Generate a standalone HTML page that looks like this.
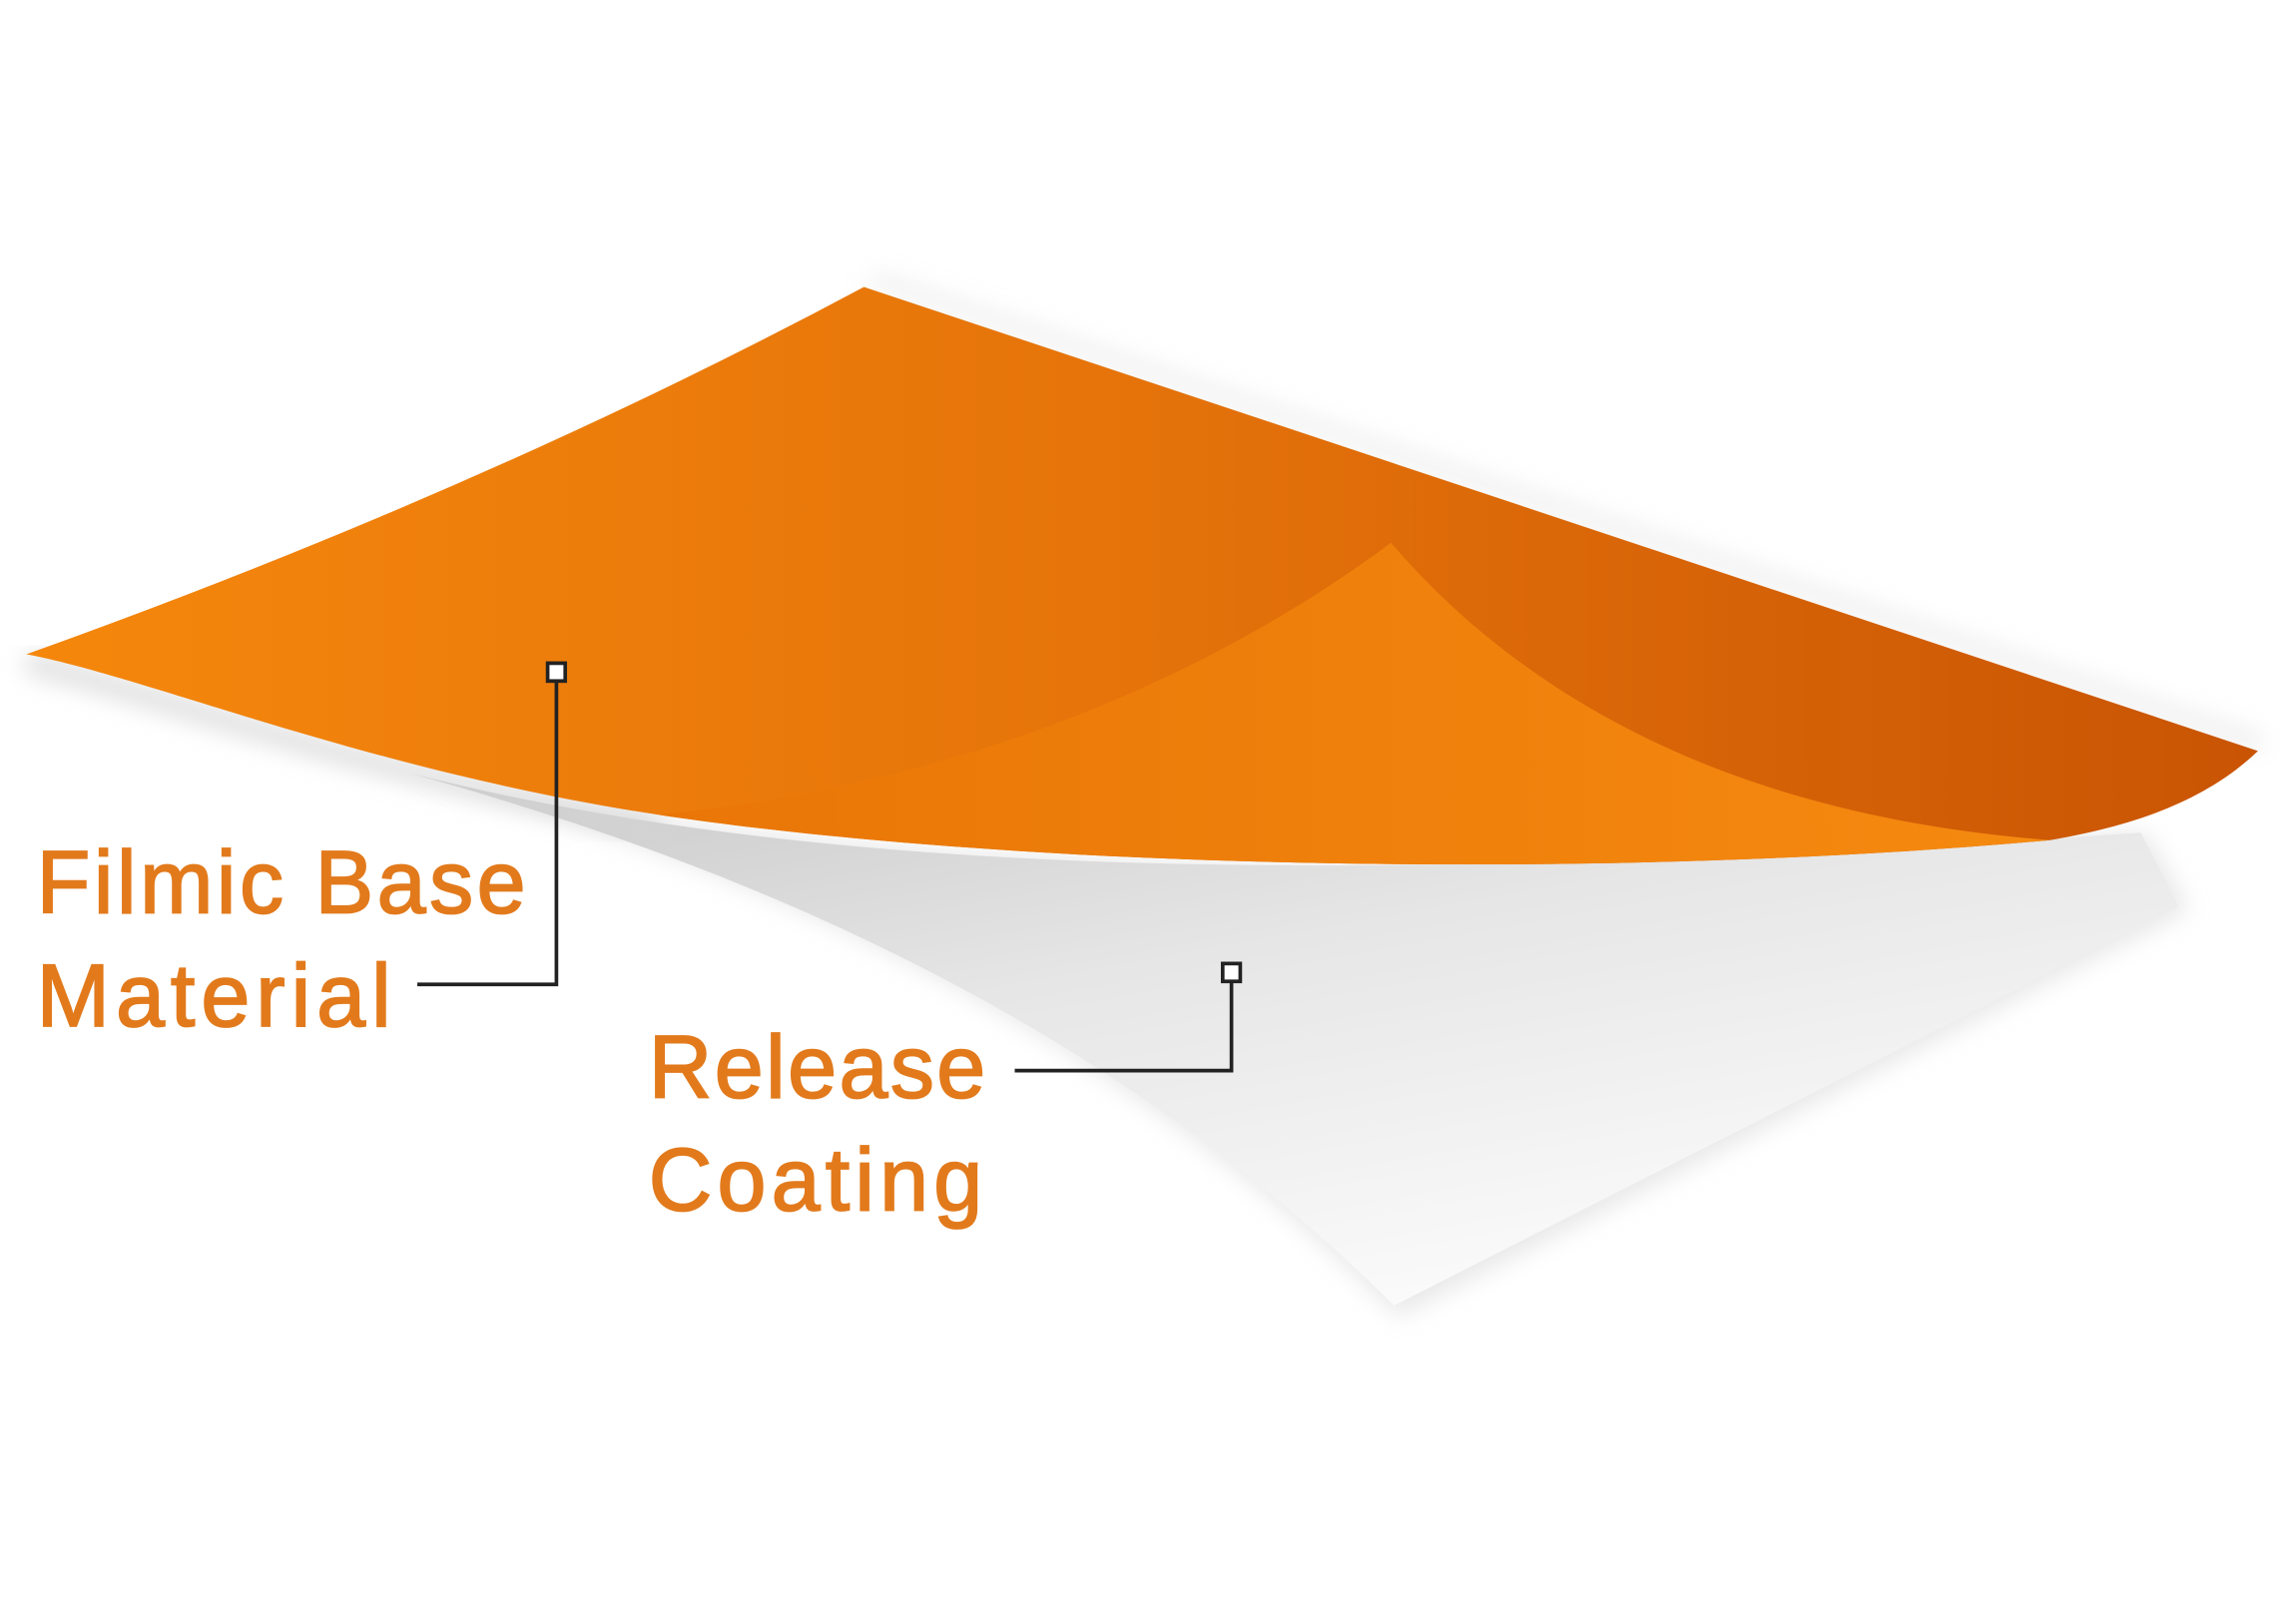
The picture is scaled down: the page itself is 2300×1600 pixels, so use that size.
<!DOCTYPE html>
<html><head><meta charset="utf-8"><style>html,body{margin:0;padding:0;background:#fff}svg{display:block}</style></head>
<body>
<svg width="2300" height="1600" viewBox="0 0 1568 1074" preserveAspectRatio="none" xmlns="http://www.w3.org/2000/svg">
<defs>
<linearGradient id="og" x1="0" y1="0" x2="1" y2="0">
<stop offset="0" stop-color="#f5870c"/><stop offset="0.5" stop-color="#e5730a"/><stop offset="1" stop-color="#c95404"/>
</linearGradient>
<linearGradient id="lg" x1="0" y1="0" x2="1" y2="0">
<stop offset="0" stop-color="#e97607"/><stop offset="1" stop-color="#f58a10"/>
</linearGradient>
<linearGradient id="wg" x1="0" y1="0" x2="0.6" y2="1">
<stop offset="0" stop-color="#c8c8c8"/><stop offset="0.45" stop-color="#e6e6e6"/><stop offset="1" stop-color="#fbfbfb"/>
</linearGradient>
<filter id="bl"><feGaussianBlur stdDeviation="8"/></filter>
</defs>
<path d="M270 515 C600 600 1000 590 1465 560 L1495 612 L955 885 C750 680 500 580 270 515 Z" fill="#d8d8d8" filter="url(#bl)" opacity="0.6"/>
<path d="M280 520 C600 600 1000 590 1462 560 L1488 610 L952 878 C750 680 500 580 280 520 Z" fill="url(#wg)"/>
<path d="M590 190 L1545 505 L1545 495 L600 185 Z" fill="#ddd" filter="url(#bl)" opacity="0.6"/>
<path d="M18 445 C100 465 250 520 450 555" stroke="#d5d5d5" stroke-width="14" fill="none" filter="url(#bl)" opacity="0.8"/>
<path d="M18 440 Q330 330 590 193 L1542 505 C1500 545 1440 558 1400 565 C1100 592 700 585 450 548 C250 518 100 455 18 440 Z" fill="url(#og)"/>
<path d="M450 548 C650 528 820 460 950 365 C1050 480 1200 550 1400 565 C1100 592 700 585 450 548 Z" fill="url(#lg)"/>
<g stroke="#222" stroke-width="2.5" fill="none">
<polyline points="285,662 380,662 380,458"/>
<rect x="374" y="446" width="12" height="12" fill="#fff"/>
<polyline points="693,720 841,720 841,660"/>
<rect x="835" y="648" width="12" height="12" fill="#fff"/>
</g>
<g fill="#e27a1c" stroke="#e27a1c" stroke-width="1.2" font-family="Liberation Sans, sans-serif" font-size="60">
<text x="25" y="614" textLength="334" lengthAdjust="spacing">Filmic Base</text>
<text x="25" y="690" textLength="242" lengthAdjust="spacing">Material</text>
<text x="443" y="738" textLength="230" lengthAdjust="spacing">Release</text>
<text x="443" y="814" textLength="228" lengthAdjust="spacing">Coating</text>
</g>
</svg>
</body></html>
